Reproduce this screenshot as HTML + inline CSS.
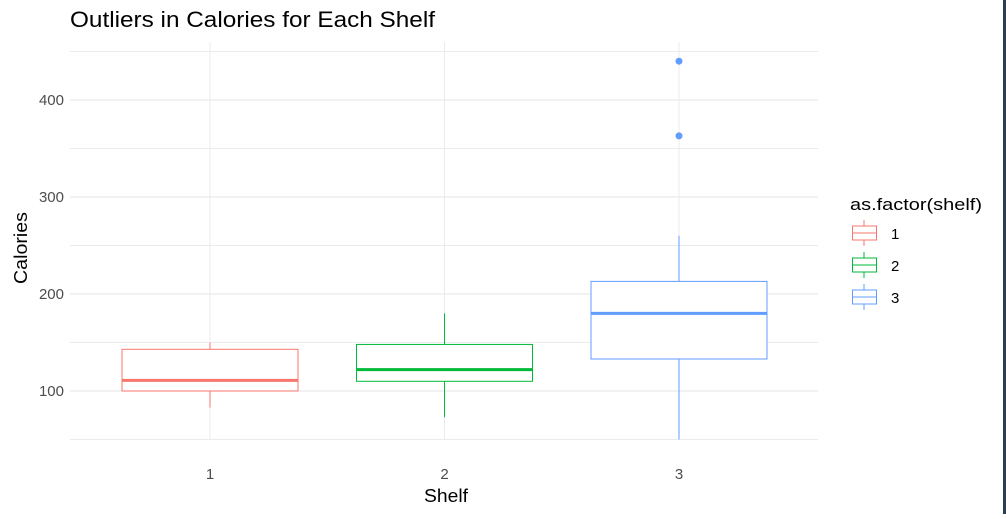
<!DOCTYPE html>
<html><head><meta charset="utf-8"><style>
body{margin:0;background:#fff;}
svg text{font-family:"Liberation Sans",Arial,sans-serif;}
</style></head><body>
<svg id="chart" width="1006" height="514">
<rect x="1003" y="0" width="3" height="514" fill="#2c3e50"/>
<text x="70" y="27" font-size="22" textLength="365" lengthAdjust="spacingAndGlyphs" fill="#000">Outliers in Calories for Each Shelf</text>
<g id="grid"></g><g id="marks"></g><g id="axes"></g>
<text x="424" y="502" font-size="18" textLength="44" lengthAdjust="spacingAndGlyphs">Shelf</text>
<text transform="translate(27,284) rotate(-90)" font-size="18" textLength="72" lengthAdjust="spacingAndGlyphs">Calories</text>
<g>
<text x="850" y="210" font-size="17" textLength="132" lengthAdjust="spacingAndGlyphs">as.factor(shelf)</text>
<g id="legend"></g>
</g>
</svg>
<script>
const categories=["1","2","3"];
const colors=["#F8766D","#00BA38","#619CFF"];
const q1=[100,110,133];
const med=[111,122,180];
const q3=[143,148,213];
const wlo=[83,73,50];
const whi=[150,180,260];
const outlierCat=[2,2];
const outlierVal=[440,363];
const yTicks=[100,200,300,400];
const yMinor=[50,150,250,350,450];
const NS="http://www.w3.org/2000/svg";
function y(v){return 391-(v-100)*0.97;}
function x(i){return 210+234.5*i;}
function mk(parent,tag,attrs){const e=document.createElementNS(NS,tag);for(const k in attrs)e.setAttribute(k,attrs[k]);document.getElementById(parent).appendChild(e);return e;}
const L=70,R=818,T=42,B=440;
yMinor.forEach(v=>{const e=mk('grid','line',{x1:L,x2:R,y1:y(v),y2:y(v),stroke:'#ebebeb','stroke-width':1});

});
yTicks.forEach(v=>{const e=mk('grid','line',{x1:L,x2:R,y1:y(v),y2:y(v),stroke:'#e5e5e5','stroke-width':1});


const t=mk('axes','text',{x:64,y:y(v)+5,'font-size':15,fill:'#4d4d4d','text-anchor':'end'});t.textContent=v;

});
categories.forEach((c,i)=>{const e=mk('grid','line',{x1:x(i),x2:x(i),y1:T,y2:B,stroke:'#ebebeb','stroke-width':1});


const t=mk('axes','text',{x:x(i),y:479,'font-size':15,fill:'#4d4d4d','text-anchor':'middle'});t.textContent=c;


const col=colors[i],hw=88;
const w1=mk('marks','line',{x1:x(i),x2:x(i),y1:y(q3[i]),y2:y(whi[i]),stroke:col,'stroke-width':1});


const w2=mk('marks','line',{x1:x(i),x2:x(i),y1:y(q1[i]),y2:y(wlo[i]),stroke:col,'stroke-width':1});


const b=mk('marks','rect',{x:x(i)-hw,y:y(q3[i]),width:hw*2,height:y(q1[i])-y(q3[i]),fill:'#fff',stroke:col,'stroke-width':1});


const m=mk('marks','line',{x1:x(i)-hw,x2:x(i)+hw,y1:y(med[i]),y2:y(med[i]),stroke:col,'stroke-width':3});


const ly=233+32*i;
const lg=mk('legend','line',{x1:864,x2:864,y1:ly-13,y2:ly+13,stroke:col,'stroke-width':1});


const lr=mk('legend','rect',{x:852.5,y:ly-7,width:24,height:14,fill:'#fff',stroke:col,'stroke-width':1});


const lm=mk('legend','line',{x1:852.5,x2:876.5,y1:ly,y2:ly,stroke:col,'stroke-width':1});


const lt=mk('legend','text',{x:891,y:ly+6,'font-size':15,fill:'#000'});lt.textContent=c;


});
outlierVal.forEach((v,k)=>{const ci=outlierCat[k];const p=mk('marks','circle',{cx:x(ci),cy:y(v),r:3.5,fill:colors[ci]});

});
</script>
</body></html>
